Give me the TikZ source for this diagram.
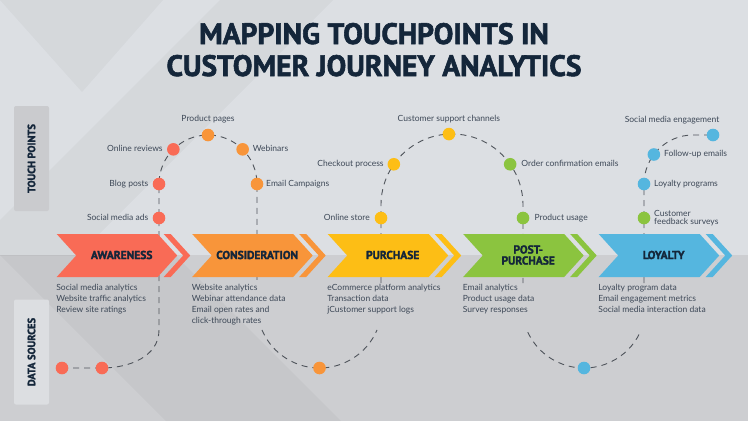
\documentclass[tikz,border=0pt]{standalone}
\usepackage{fontspec}
\setmainfont{Lato}
\newfontfamily\headfont[BoldFeatures={FakeBold=2}]{PT Sans}
\usetikzlibrary{positioning,calc}
\definecolor{bgtop}{HTML}{DCDFE3}
\definecolor{bgbot}{HTML}{CDCED1}
\definecolor{boxtp}{HTML}{CACBCE}
\definecolor{boxds}{HTML}{DCDEE1}
\definecolor{navy}{HTML}{14263A}
\definecolor{txt}{HTML}{3D4857}
\definecolor{dashgray}{HTML}{4F545B}
\definecolor{cAw}{HTML}{F96B56}
\definecolor{cCo}{HTML}{F8953A}
\definecolor{cPu}{HTML}{FDBE15}
\definecolor{cPp}{HTML}{8BC43F}
\definecolor{cLo}{HTML}{55B6DF}
\begin{document}
\begin{tikzpicture}[x=1pt,y=1pt,
tpdot/.style={circle,fill=#1,minimum size=12.6pt,inner sep=0pt},
tp/.style={font=\fontsize{8.5}{9}\selectfont,text=txt,inner sep=0pt,text height=6pt,text depth=1.7pt},
fb/.style={font=\fontsize{8.5}{8.7}\selectfont,text=txt,inner sep=0pt,align=left},
src/.style={font=\fontsize{8.5}{11}\selectfont,text=txt,inner sep=0pt,align=left,anchor=north west},
trail/.style={draw=dashgray,line width=0.9pt,dash pattern=on 6pt off 5pt},
stage/.style={font=\headfont\bfseries\fontsize{11.5}{11}\selectfont,text=navy,align=center},
side/.style={rotate=90,minimum width=105pt,minimum height=35pt,rounded corners=2pt,font=\headfont\bfseries\fontsize{10.5}{11}\selectfont,text=navy},
ttl/.style={font=\headfont\bfseries\fontsize{29.5}{32}\selectfont,text=navy,anchor=base}]
\fill[bgtop](0,0)rectangle(748,-255);
\fill[bgbot](0,-255)rectangle(748,-421);
\begin{scope}
\clip(0,0)rectangle(748,-255);
\fill[black,opacity=.03](0,0)--(163,0)--(82,-92)--cycle;
\fill[black,opacity=.03](220,0)--(333,0)--(0,-333)--(0,-220)--cycle;
\end{scope}
\begin{scope}
\clip(0,-255)rectangle(748,-421);
\fill[black,opacity=.03](0,-255)--(175,-255)--(341,-421)--(166,-421)--cycle;
\end{scope}
\useasboundingbox(0,0)rectangle(748,-421);
\node[ttl](title1)at(374,-44){MAPPING TOUCHPOINTS IN};
\node[ttl](title2)at(374,-76){CUSTOMER JOURNEY ANALYTICS};
\node[side,fill=boxtp](tpbox)at(31.5,-158.5){TOUCH POINTS};
\node[side,fill=boxds](dsbox)at(31.5,-352){DATA SOURCES};
\coordinate(c1)at(208,-184);
\coordinate(c2)at(452,-205);
\coordinate(c3)at(693,-184);
\coordinate(c5)at(319.5,-305.5);
\coordinate(c6)at(584,-306);
\coordinate(ads)at(159,-218);
\coordinate(blog)at($(c1)+(180:49)$);
\coordinate(reviews)at($(c1)+(135:49)$);
\coordinate(pages)at($(c1)+(90:49)$);
\coordinate(webinars)at($(c1)+(45:49)$);
\coordinate(emails)at($(c1)+(0:49)$);
\coordinate(store)at(381,-218);
\coordinate(checkout)at($(c2)+(145:71)$);
\coordinate(support)at($(c2)+(92.5:71)$);
\coordinate(orderconf)at($(c2)+(35:71)$);
\coordinate(usage)at(523,-218);
\coordinate(feedback)at(644,-218);
\coordinate(loyprog)at($(c3)+(180:49)$);
\coordinate(followup)at($(c3)+(143:49)$);
\coordinate(socialeng)at(713,-135);
\coordinate(src1)at(62,-368);
\coordinate(src2)at(102,-368);
\coordinate(src3)at($(c5)+(270:62.5)$);
\coordinate(src4)at($(c6)+(270:62)$);
\coordinate(awbot)at(159,-330);
\coordinate(cobot)at(257,-283);
\coordinate(pubot)at(381,-283);
\coordinate(ppbot)at(523,-283);
\coordinate(lobot)at(644,-283);
\draw[trail](src1)--(src2)to[out=0,in=-90](awbot)--(blog)arc[start angle=180,end angle=0,radius=49]--(cobot);
\draw[trail](pubot)--(store)--($(c2)+(180:71)$)arc[start angle=180,end angle=0,radius=71]--(ppbot);
\draw[trail](lobot)--(loyprog)arc[start angle=180,end angle=90,radius=49]--(socialeng);
\draw[trail]($(c5)+(203:62.5)$)arc[start angle=203,end angle=337,radius=62.5];
\draw[trail]($(c6)+(205:62)$)arc[start angle=205,end angle=335,radius=62];
\foreach \i/\c/\t/\s in {0/cAw/AWARENESS/{Social media analytics\\Website traffic analytics\\Review site ratings},
1/cCo/CONSIDERATION/{Website analytics\\Webinar attendance data\\Email open rates and\\click-through rates},
2/cPu/PURCHASE/{eCommerce platform analytics\\Transaction data\\jCustomer support logs},
3/cPp/{POST-\\PURCHASE}/{Email analytics\\Product usage data\\Survey responses},
4/cLo/LOYALTY/{Loyalty program data\\Email engagement metrics\\Social media interaction data}}{
\pgfmathsetmacro\L{56.7+135.5*\i}
\fill[\c](\L,-234)--++(101,0)--++(19.5,-21.5)--++(-19.5,-21.5)--++(-101,0)--++(19.5,21.5)--cycle;
\fill[\c](\L+107,-234)--++(7,0)--++(19.5,-21.5)--++(-19.5,-21.5)--++(-7,0)--++(19.5,21.5)--cycle;
\node[stage](st\i)at(\L+65,-255){\t};
\node[src](ds\i)at(\L-0.5,-284){\s};
}
\foreach \p/\c in {ads/cAw,blog/cAw,reviews/cAw,pages/cCo,webinars/cCo,emails/cCo,store/cPu,checkout/cPu,support/cPu,orderconf/cPp,usage/cPp,feedback/cPp,loyprog/cLo,followup/cLo,socialeng/cLo,src1/cAw,src2/cAw,src3/cCo,src4/cLo}
\node[tpdot=\c](n\p)at(\p){};
\node[tp,left=4pt of nads](lads){Social media ads};
\node[tp,left=4pt of nblog](lblog){Blog posts};
\node[tp,left=4pt of nreviews](lreviews){Online reviews};
\node[tp,above=5pt of npages](lpages){Product pages};
\node[tp,right=3.5pt of nwebinars](lwebinars){Webinars};
\node[tp,right=2.5pt of nemails](lemails){Email Campaigns};
\node[tp,left=4.5pt of nstore](lstore){Online store};
\node[tp,left=3.5pt of ncheckout](lcheckout){Checkout process};
\node[tp,above=4pt of nsupport](lsupport){Customer support channels};
\node[tp,right=4.5pt of norderconf](lorderconf){Order confirmation emails};
\node[tp,right=5pt of nusage](lusage){Product usage};
\node[fb,right=3.5pt of nfeedback](lfeedback){Customer\\feedback surveys};
\node[tp,right=3.5pt of nloyprog](lloyprog){Loyalty programs};
\node[tp,right=3.5pt of nfollowup](lfollowup){Follow-up emails};
\node[tp,anchor=base east](lsocialeng)at(719.5,-122.5){Social media engagement};
\end{tikzpicture}
\end{document}
